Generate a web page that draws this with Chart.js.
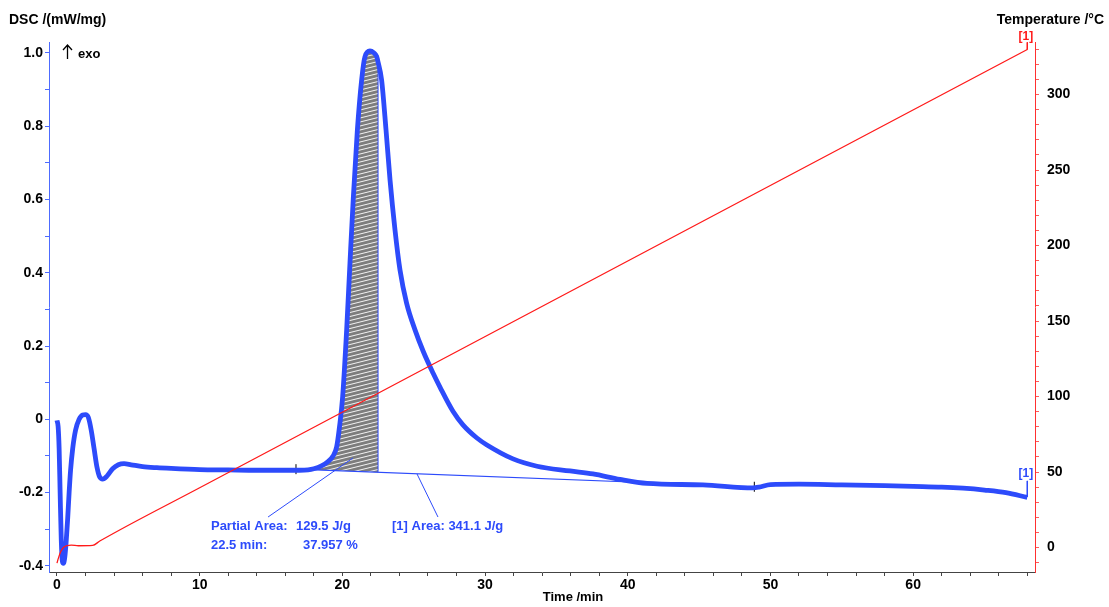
<!DOCTYPE html>
<html>
<head>
<meta charset="utf-8">
<script src="https://cdn.jsdelivr.net/npm/chart.js@4.4.1/dist/chart.umd.min.js"></script>
<style>
html, body { margin: 0; padding: 0; background: #fff; }
#wrap { width: 1109px; height: 607px; position: relative; }
</style>
</head>
<body>
<div id="wrap"><canvas id="dsc"></canvas></div>
<script>
// DSC signal
const dscTime = [0, 0.08, 0.15, 0.22, 0.3, 0.38, 0.45, 0.55, 0.65, 0.75, 0.85, 0.95, 1.1, 1.3, 1.55, 1.8, 2.0, 2.2, 2.4, 2.6, 2.8, 3.0, 3.2, 3.5, 3.9, 4.3, 4.7, 5.2, 6, 7, 8, 10, 12, 14, 16, 17, 17.6, 18.0, 18.5, 19.0, 19.35, 19.6, 19.8, 20.02, 20.3, 20.53, 20.77, 21.05, 21.35, 21.58, 21.93, 22.2, 22.4, 22.5, 22.75, 23.06, 23.34, 23.69, 24.04, 24.5, 25.09, 25.67, 26.37, 26.84, 27.75, 28.45, 29.43, 30.13, 31.96, 33.64, 35.95, 37.56, 39.45, 41.35, 45.27, 48.77, 49.2, 50, 52, 55, 58, 60, 62, 63.5, 65, 66.5, 68];
const dscValue = [-0.003, -0.02, -0.08, -0.2, -0.33, -0.388, -0.393, -0.375, -0.33, -0.27, -0.2, -0.14, -0.08, -0.03, 0.0, 0.012, 0.013, 0.005, -0.03, -0.08, -0.13, -0.158, -0.163, -0.155, -0.135, -0.124, -0.121, -0.124, -0.129, -0.132, -0.134, -0.137, -0.138, -0.139, -0.139, -0.139, -0.138, -0.135, -0.128, -0.115, -0.1, -0.075, -0.02, 0.062, 0.244, 0.425, 0.607, 0.789, 0.926, 0.989, 1.005, 1.0, 0.99, 0.975, 0.926, 0.789, 0.653, 0.516, 0.407, 0.317, 0.244, 0.185, 0.125, 0.088, 0.022, -0.015, -0.051, -0.07, -0.108, -0.128, -0.141, -0.149, -0.164, -0.175, -0.179, -0.187, -0.185, -0.178, -0.177, -0.179, -0.181, -0.183, -0.185, -0.188, -0.193, -0.2, -0.213];

// temperature programme
const tempTime = [0, 0.1, 0.25, 0.45, 0.7, 1.0, 1.5, 2.5, 3.0, 10, 68];
const tempValue = [-10.3, -7, -3, 0, 1.3, 1.6, 1.2, 1.4, 4.3, 39.6, 329.8];

// integration baseline and partial area limits
const baseTime = [16.75, 48.87];
const baseValue = [-0.136, -0.184];
const partialFrom = 18.0;
const partialTo = 22.5;

// tick labels
const timeLabels = [0, 10, 20, 30, 40, 50, 60];
const dscLabels = [-0.4, -0.2, 0, 0.2, 0.4, 0.6, 0.8, 1.0];
const tempLabels = [0, 50, 100, 150, 200, 250, 300];

// annotation texts (anchored in data units)
const notes = [
    {text: 'Partial Area:', t: 10.79, v: -0.291},
    {text: '129.5 J/g', t: 16.75, v: -0.291},
    {text: '22.5 min:', t: 10.79, v: -0.343},
    {text: '37.957 %', t: 17.24, v: -0.343},
    {text: '[1] Area: 341.1 J/g', t: 23.48, v: -0.291}
];
const leaderPartial = [{x: 14.79, y: -0.2666}, {x: 20.74, y: -0.1055}];
const leaderArea = [{x: 26.7, y: -0.2666}, {x: 25.23, y: -0.149}];
const endMarkDsc = [{x: 68, y: -0.168}, {x: 68, y: -0.212}];
const endMarkTemp = [{x: 68, y: 334.6}, {x: 68, y: 329.8}];

const BLUE = '#2d4bfb';
const RED = '#ff1a1a';
const FONT = 'Liberation Sans, Arial, sans-serif';

function pairs(xs, ys) {
    return xs.map((x, i) => ({x: x, y: ys[i]}));
}

function stepTicks(from, to, step) {
    let out = [];
    let n = Math.round((to - from) / step);
    for (let i = 0; i <= n; i++) {
        out.push({value: Math.round((from + i * step) * 1000) / 1000});
    }
    return out;
}

function hatchPattern() {
    const c = document.createElement('canvas');
    c.width = 16;
    c.height = 4;
    const g = c.getContext('2d');
    g.fillStyle = '#7d7d7d';
    g.fillRect(0, 0, 16, 4);
    g.strokeStyle = 'rgba(255,255,255,0.9)';
    g.lineWidth = 1;
    for (let k = -1; k <= 1; k++) {
        g.beginPath();
        g.moveTo(0, 4 + k * 4);
        g.lineTo(16, k * 4);
        g.stroke();
    }
    return g.createPattern(c, 'repeat');
}

const dscPoints = pairs(dscTime, dscValue);
const partialPoints = dscPoints.filter(p => p.x >= partialFrom && p.x <= partialTo);
const basePoints = pairs(baseTime, baseValue);
const cutLine = [{x: partialTo, y: -0.1435}, {x: partialTo, y: dscValue[dscTime.indexOf(partialTo)]}];

const textPlugin = {
    id: 'texts',
    afterDraw(chart) {
        const ctx = chart.ctx;
        const xs = chart.scales.x, ys = chart.scales.y, ts = chart.scales.y2;
        ctx.save();
        ctx.fillStyle = '#000';
        ctx.textBaseline = 'middle';
        ctx.font = 'bold 14px ' + FONT;
        ctx.textAlign = 'left';
        ctx.fillText('DSC /(mW/mg)', 9, 20);
        ctx.textAlign = 'right';
        ctx.fillText('Temperature /\u00B0C', 1104, 20);
        ctx.textAlign = 'center';
        ctx.font = 'bold 13px ' + FONT;
        ctx.fillText('Time /min', 573, 597);

        // exo arrow
        ctx.strokeStyle = '#000';
        ctx.lineWidth = 1.3;
        ctx.beginPath();
        ctx.moveTo(67.5, 59);
        ctx.lineTo(67.5, 45);
        ctx.moveTo(63, 50);
        ctx.lineTo(67.5, 45);
        ctx.lineTo(72, 50);
        ctx.stroke();
        ctx.textAlign = 'left';
        ctx.font = 'bold 13px ' + FONT;
        ctx.fillText('exo', 78, 54);

        ctx.fillStyle = BLUE;
        ctx.font = 'bold 13px ' + FONT;
        notes.forEach(n => {
            ctx.fillText(n.text, xs.getPixelForValue(n.t), ys.getPixelForValue(n.v));
        });
        ctx.textAlign = 'center';
        ctx.font = 'bold 12px ' + FONT;
        ctx.fillText('[1]', xs.getPixelForValue(67.9), ys.getPixelForValue(-0.149));
        ctx.fillStyle = RED;
        ctx.fillText('[1]', xs.getPixelForValue(67.9), ts.getPixelForValue(338));
        ctx.restore();
    }
};

const ctx = document.getElementById('dsc').getContext('2d');
const chart = new Chart(ctx, {
    type: 'line',
    data: {
        datasets: [
            {
                label: 'partial',
                data: partialPoints,
                borderWidth: 0,
                pointRadius: 0,
                cubicInterpolationMode: 'monotone',
                backgroundColor: hatchPattern(),
                fill: {target: 1},
                yAxisID: 'y',
                order: 10
            },
            {
                label: 'baseline',
                data: basePoints,
                borderColor: BLUE,
                borderWidth: 1.2,
                pointRadius: 5,
                pointStyle: 'cross',
                pointBorderColor: '#000',
                pointBorderWidth: 1,
                fill: false,
                yAxisID: 'y',
                order: 5
            },
            {
                label: 'cut',
                data: cutLine,
                borderColor: BLUE,
                borderWidth: 1,
                pointRadius: 0,
                fill: false,
                yAxisID: 'y',
                order: 5
            },
            {
                label: 'DSC',
                data: dscPoints,
                borderColor: BLUE,
                borderWidth: 4.8,
                pointRadius: 0,
                cubicInterpolationMode: 'monotone',
                fill: false,
                yAxisID: 'y',
                order: 2
            },
            {
                label: 'Temp',
                data: pairs(tempTime, tempValue),
                borderColor: RED,
                borderWidth: 1.3,
                pointRadius: 0,
                cubicInterpolationMode: 'monotone',
                fill: false,
                yAxisID: 'y2',
                order: 1
            },
            {data: leaderPartial, borderColor: BLUE, borderWidth: 1, pointRadius: 0, yAxisID: 'y', order: 0},
            {data: leaderArea, borderColor: BLUE, borderWidth: 1, pointRadius: 0, yAxisID: 'y', order: 0},
            {data: endMarkDsc, borderColor: BLUE, borderWidth: 1, pointRadius: 0, yAxisID: 'y', order: 0, clip: false},
            {data: endMarkTemp, borderColor: RED, borderWidth: 1, pointRadius: 0, yAxisID: 'y2', order: 0, clip: false}
        ]
    },
    options: {
        responsive: true,
        maintainAspectRatio: false,
        animation: false,
        layout: {padding: {top: 42, left: 0, right: 0, bottom: 0}},
        plugins: {
            legend: {display: false},
            tooltip: {enabled: false}
        },
        scales: {
            x: {
                type: 'linear',
                min: -0.56,
                max: 68.54,
                afterFit: s => { s.height = 35; },
                afterBuildTicks: s => { s.ticks = stepTicks(0, 68, 2); },
                border: {color: '#444', width: 1},
                grid: {drawOnChartArea: false, tickLength: 4, color: '#444'},
                ticks: {
                    autoSkip: false,
                    maxRotation: 0,
                    padding: 1,
                    color: '#000',
                    font: {family: FONT, size: 14, weight: 'bold'},
                    callback: v => timeLabels.includes(v) ? String(v) : ''
                }
            },
            y: {
                position: 'left',
                min: -0.4166,
                max: 1.0295,
                afterFit: s => { s.width = 49; },
                afterBuildTicks: s => { s.ticks = stepTicks(-0.4, 1.0, 0.1); },
                border: {color: '#4d6bff', width: 1},
                grid: {drawOnChartArea: false, tickLength: 4, color: '#4d6bff'},
                ticks: {
                    autoSkip: false,
                    padding: 2,
                    color: '#000',
                    font: {family: FONT, size: 14, weight: 'bold'},
                    callback: v => {
                        const k = Math.round(v * 10) / 10;
                        if (!dscLabels.includes(k)) return '';
                        return k === 0 ? '0' : k.toFixed(1);
                    }
                }
            },
            y2: {
                position: 'right',
                min: -16.2,
                max: 334.8,
                afterFit: s => { s.width = 74; },
                afterBuildTicks: s => { s.ticks = stepTicks(-10, 330, 10); },
                border: {color: '#ff3030', width: 1},
                grid: {drawOnChartArea: false, tickLength: 4, color: '#ff5a5a'},
                ticks: {
                    autoSkip: false,
                    padding: 8,
                    color: '#000',
                    font: {family: FONT, size: 14, weight: 'bold'},
                    callback: v => tempLabels.includes(v) ? String(v) : ''
                }
            }
        }
    },
    plugins: [textPlugin]
});
</script>
</body>
</html>
